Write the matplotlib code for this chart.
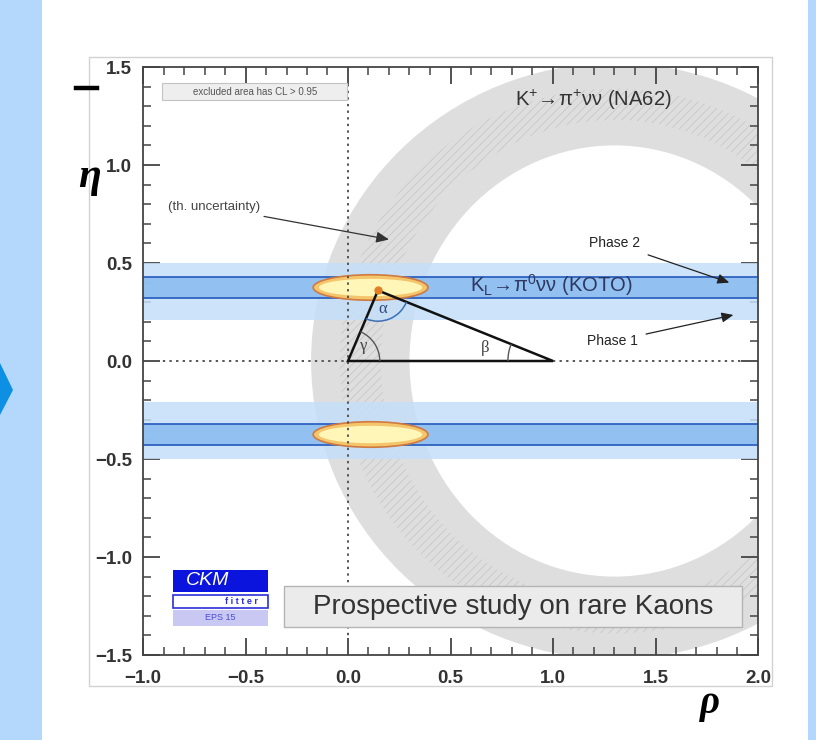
import numpy as np
import matplotlib.pyplot as plt
from matplotlib.patches import Ellipse, Rectangle, Arc, Polygon
from matplotlib.lines import Line2D

plt.rcParams['font.family'] = ['Liberation Sans', 'DejaVu Sans']
plt.rcParams['mathtext.fontset'] = 'custom'
plt.rcParams['mathtext.rm'] = 'Liberation Sans'
plt.rcParams['mathtext.it'] = 'Liberation Sans:italic'
plt.rcParams['mathtext.bf'] = 'Liberation Sans:bold'
plt.rcParams['hatch.linewidth'] = 0.5

# axes
rho_lim = [-1.0, 2.0]
eta_lim = [-1.5, 1.5]
rho_ticks = [-1.0, -0.5, 0.0, 0.5, 1.0, 1.5, 2.0]
eta_ticks = [-1.5, -1.0, -0.5, 0.0, 0.5, 1.0, 1.5]

# K+ -> pi+ nu nu (NA62) ring, centre on the rho axis, semi-axes (rho, eta)
na62_centre = 1.3
na62_outer = (1.48, 1.52)
na62_th_outer = (1.34, 1.39)
na62_th_inner = (1.14, 1.23)
na62_inner = (1.00, 1.10)

# KL -> pi0 nu nu (KOTO) bands in |eta|
koto_phase1 = (0.21, 0.50)
koto_phase2 = (0.32, 0.43)

# combined fit regions
fit_rho = 0.11
fit_eta = [0.375, -0.375]
fit_width = 0.56
fit_height = 0.13

# unitarity triangle
tri_rho = [0.0, 0.146, 1.0]
tri_eta = [0.0, 0.36, 0.0]

W, H = 816, 740
fig = plt.figure(figsize=(W / 100, H / 100), dpi=100)
fig.patch.set_facecolor('#b4d8fb')

# white page, frame and leftovers of the slide
fig.patches.append(Rectangle((42 / W, 0), 766 / W, 1, transform=fig.transFigure,
                             fc='white', ec='none', zorder=0))
fig.patches.append(Rectangle((89 / W, 54 / H), 683 / W, 629 / H, transform=fig.transFigure,
                             fc='none', ec='#d2d2d2', lw=1, zorder=0.5))
fig.patches.append(Polygon([(0, 1 - 363 / H), (13 / W, 1 - 390 / H), (0, 1 - 415 / H)],
                           closed=True, transform=fig.transFigure, fc='#0d8fe3', ec='none'))
fig.lines.append(Line2D([76 / W, 97 / W], [1 - 88 / H, 1 - 88 / H], transform=fig.transFigure,
                        color='black', lw=3.2))
fig.text(90 / W, 1 - 177 / H, 'η', fontsize=30, fontweight='bold', style='italic',
         family='Liberation Serif', ha='center', va='center')
fig.text(710 / W, 1 - 703 / H, 'ρ', fontsize=28, fontweight='bold', style='italic',
         family='Liberation Serif', ha='center', va='center')

ax = fig.add_axes([143 / W, 85 / H, 615 / W, 588 / H])
ax.set_zorder(2)
ax.set_xlim(rho_lim)
ax.set_ylim(eta_lim)

# NA62 ring with hatched theory band
def ring(ab, **kw):
    return Ellipse((na62_centre, 0), 2 * ab[0], 2 * ab[1], **kw)

ax.add_patch(ring(na62_outer, fc='#dedede', ec='none', zorder=1))
ax.add_patch(ring(na62_th_outer, fc='#dedede', ec='#c4c4c4', lw=0, hatch='////', zorder=1.1))
ax.add_patch(ring(na62_th_inner, fc='#dedede', ec='none', zorder=1.2))
ax.add_patch(ring(na62_inner, fc='white', ec='none', zorder=1.3))

# KOTO bands
for s in [1, -1]:
    ax.axhspan(s * koto_phase1[0], s * koto_phase1[1], fc='#c4dff9', alpha=0.85, lw=0, zorder=2)
    ax.axhspan(s * koto_phase2[0], s * koto_phase2[1], fc='#8cbdf0', alpha=0.9, lw=0, zorder=2.1)
    for e in koto_phase2:
        ax.axhline(s * e, color='#2f62c0', lw=1.3, zorder=2.2)

# fit regions
for e in fit_eta:
    ax.add_patch(Ellipse((fit_rho, e), fit_width, fit_height, fc='#f5c56c', ec='#cf7a40',
                         lw=1.2, zorder=3))
    ax.add_patch(Ellipse((fit_rho, e), fit_width * 0.9, fit_height * 0.68, fc='#fff6b8',
                         ec='none', zorder=3.1))

# dotted axes
ax.axvline(0, color='#555555', lw=1.4, dashes=(1.2, 2.2), zorder=3.5)
ax.axhline(0, color='#555555', lw=1.4, dashes=(1.2, 2.2), zorder=3.5)

# unitarity triangle
ax.fill(tri_rho, tri_eta, fc='none', ec='#111111', lw=1.8, zorder=4)
ax.plot(tri_rho[1], tri_eta[1], 'o', color='#e07f26', ms=5, zorder=4.5)

bb = ax.get_window_extent()
ppu_x = bb.width / (rho_lim[1] - rho_lim[0])
ppu_y = bb.height / (eta_lim[1] - eta_lim[0])
sq = ppu_x / ppu_y

def ang(p, q):
    return np.degrees(np.arctan2(q[1] - p[1], q[0] - p[0]))

A = (tri_rho[1], tri_eta[1])
O = (tri_rho[0], tri_eta[0])
B = (tri_rho[2], tri_eta[2])
ax.add_patch(Arc(O, 0.31, 0.31 * sq, theta1=0, theta2=ang(O, A), color='#555555', lw=1, zorder=4))
ax.add_patch(Arc(B, 0.44, 0.44 * sq, theta1=ang(B, A), theta2=180, color='#555555', lw=1, zorder=4))
ax.add_patch(Arc(A, 0.30, 0.30 * sq, theta1=ang(A, O) % 360, theta2=ang(A, B) % 360,
                 color='#3a70b8', lw=1.1, zorder=4))
ax.text(0.075, 0.075, 'γ', fontsize=12, color='#444444', family='Liberation Serif',
        ha='center', va='center', zorder=5)
ax.text(0.17, 0.265, 'α', fontsize=12, color='#2a4a80', family='Liberation Serif',
        ha='center', va='center', zorder=5)
ax.text(0.67, 0.065, 'β', fontsize=12, color='#444444', family='Liberation Serif',
        ha='center', va='center', zorder=5)

# labels
ax.add_patch(Rectangle((-0.907, 1.332), 0.90, 0.086, fc='#eeeeee', ec='#c4c4c4', lw=0.8, zorder=5))
ax.text(-0.455, 1.375, 'excluded area has CL > 0.95', fontsize=7, color='#555555',
        ha='center', va='center', zorder=6)

ax.annotate('(th. uncertainty)', xy=(0.2, 0.62), xytext=(-0.88, 0.785), fontsize=9.5,
            color='#444444', ha='left', va='center', zorder=6,
            arrowprops=dict(arrowstyle='-|>,head_length=0.8,head_width=0.35', color='#333333',
                            lw=0.9, shrinkA=2, shrinkB=0))

ax.text(1.195, 1.33, r'$\mathregular{K^{+}\!\rightarrow\!\pi^{+}\nu\nu}$ (NA62)', fontsize=14.5,
        color='#333333', ha='center', va='center', zorder=6)
ax.text(0.99, 0.385, r'$\mathregular{K_{L}\!\rightarrow\!\pi^{0}\nu\nu}$ (KOTO)', fontsize=14.5,
        color='#2c3862', ha='center', va='center', zorder=6)

ax.annotate('Phase 2', xy=(1.86, 0.40), xytext=(1.30, 0.60), fontsize=10, color='#222222',
            ha='center', va='center', zorder=6,
            arrowprops=dict(arrowstyle='-|>,head_length=0.7,head_width=0.3', color='#222222',
                            lw=0.9, shrinkA=4, shrinkB=0))
ax.annotate('Phase 1', xy=(1.88, 0.235), xytext=(1.29, 0.10), fontsize=10, color='#222222',
            ha='center', va='center', zorder=6,
            arrowprops=dict(arrowstyle='-|>,head_length=0.7,head_width=0.3', color='#222222',
                            lw=0.9, shrinkA=4, shrinkB=0))

ax.add_patch(Rectangle((-0.31, -1.357), 2.23, 0.209, fc='#ebebeb', ec='#b4b4b4', lw=1, zorder=5))
ax.text(0.805, -1.255, 'Prospective study on rare Kaons', fontsize=20, color='#333333',
        ha='center', va='center', zorder=6)

# CKMfitter logo
ax.add_patch(Rectangle((-0.854, -1.179), 0.464, 0.113, fc='#0a14dc', ec='none', zorder=5))
ax.text(-0.79, -1.122, 'CKM', fontsize=14, style='italic', color='white', ha='left',
        va='center', zorder=6)
ax.add_patch(Rectangle((-0.854, -1.260), 0.464, 0.066, fc='white', ec='#2a30d8', lw=1.2, zorder=5))
ax.text(-0.52, -1.227, 'f i t t e r', fontsize=6.5, fontweight='bold', color='#2a30d8',
        ha='center', va='center', zorder=6)
ax.add_patch(Rectangle((-0.854, -1.352), 0.464, 0.082, fc='#c8c8f2', ec='none', zorder=5))
ax.text(-0.622, -1.311, 'EPS 15', fontsize=6.5, color='#4a4ad8', ha='center', va='center', zorder=6)

# axis styling
ax.set_xticks(rho_ticks)
ax.set_yticks(eta_ticks)
ax.set_xticks(np.arange(-1.0, 2.01, 0.1), minor=True)
ax.set_yticks(np.arange(-1.5, 1.51, 0.1), minor=True)
ax.set_xticklabels([f'{v:.1f}'.replace('-', '\u2212') for v in rho_ticks])
ax.set_yticklabels([f'{v:.1f}'.replace('-', '\u2212') for v in eta_ticks])
ax.tick_params(which='both', direction='in', top=True, right=True, color='#444444')
ax.tick_params(which='major', length=12, width=1.3, labelsize=13.5, labelcolor='#333333')
ax.tick_params(which='minor', length=6, width=1.1)
ax.tick_params(axis='x', which='major', pad=11)
ax.tick_params(axis='y', which='major', pad=8)
for lab in ax.get_xticklabels() + ax.get_yticklabels():
    lab.set_fontweight('bold')
for sp in ax.spines.values():
    sp.set_color('#444444')
    sp.set_linewidth(1.3)
    sp.set_zorder(7)

fig.savefig('out.png', dpi=100, facecolor=fig.get_facecolor())
